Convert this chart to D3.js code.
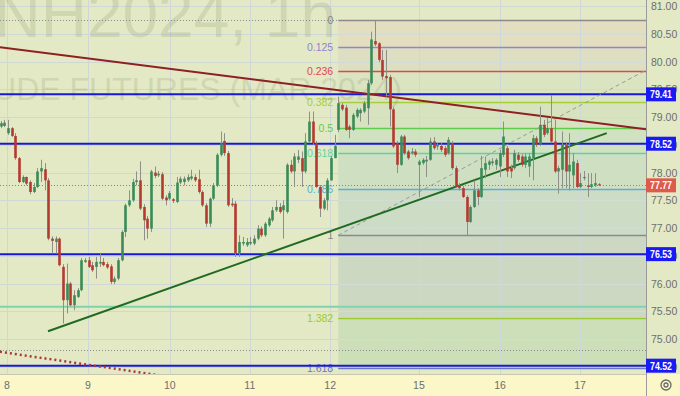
<!DOCTYPE html>
<html>
<head>
<meta charset="utf-8">
<script src="https://cdn.jsdelivr.net/npm/d3@7"></script>
<style>
  html, body { margin: 0; padding: 0; background: #e3e9c4; }
  svg { display: block; font-family: "Liberation Sans", Arial, sans-serif; }
</style>
</head>
<body>
<div id="chart"></div>
<script>
"use strict"

// BRNH2024, 1h candles
const candleOpen = [
  78.83, 78.84, 78.71, 78.80, 78.66, 78.26, 77.83, 77.92, 77.83, 77.65,
  77.74, 78.02, 78.06, 77.86, 76.81, 76.75, 76.81, 76.30, 75.70, 76.00,
  75.61, 75.76, 75.88, 76.39, 76.42, 76.33, 76.30, 76.36, 76.39, 76.35,
  76.31, 76.03, 76.09, 76.42, 76.93, 77.41, 77.50, 77.83, 77.86, 77.38,
  77.17, 76.99, 78.00, 77.95, 77.97, 77.55, 77.53, 77.52, 77.47, 77.82,
  77.83, 77.86, 77.89, 77.92, 77.88, 77.65, 77.41, 77.08, 77.53, 77.77,
  78.32, 78.57, 78.35, 77.44, 77.44, 76.54, 76.72, 76.69, 76.72, 76.72,
  76.81, 76.99, 76.87, 77.05, 77.14, 77.32, 77.38, 77.32, 77.29, 78.14,
  78.02, 78.23, 78.26, 78.02, 78.56, 78.92, 78.53, 77.74, 77.35, 77.50,
  77.86, 78.26, 78.77, 79.22, 79.17, 78.83, 78.77, 79.01, 79.07, 79.10,
  79.16, 79.61, 80.37, 80.33, 80.03, 79.74, 79.72, 79.14, 78.53, 78.14,
  78.65, 78.38, 78.35, 78.38, 78.14, 78.17, 78.20, 78.23, 78.56, 78.47,
  78.48, 78.44, 78.35, 78.53, 78.08, 77.77, 77.72, 77.56, 77.11, 77.38,
  77.68, 77.56, 78.05, 78.14, 78.17, 78.14, 78.11, 78.32, 78.44, 78.08,
  78.08, 78.32, 78.29, 78.14, 78.11, 78.26, 78.62, 78.50, 78.86, 78.71,
  78.80, 78.56, 78.02, 78.05, 78.50, 78.02, 77.95, 78.17, 77.74, 77.90,
  77.77, 77.74, 77.77, 77.79
];
const candleHigh = [
  78.93, 78.95, 78.95, 78.82, 78.71, 78.28, 77.95, 77.93, 77.86, 77.81,
  78.08, 78.23, 78.17, 77.90, 76.85, 76.85, 76.83, 76.35, 76.36, 76.03,
  75.88, 75.92, 76.46, 76.46, 76.48, 76.39, 76.48, 76.54, 76.46, 76.39,
  76.35, 76.13, 76.46, 76.96, 77.44, 77.68, 77.89, 78.02, 78.20, 77.43,
  77.22, 78.05, 78.11, 78.03, 78.01, 77.59, 77.67, 77.54, 77.92, 77.93,
  77.93, 77.97, 78.05, 77.97, 78.05, 77.68, 77.45, 77.55, 77.81, 78.35,
  78.74, 78.71, 78.39, 77.54, 77.49, 76.87, 76.84, 76.82, 76.84, 76.87,
  77.05, 77.03, 77.11, 77.20, 77.38, 77.50, 77.45, 77.50, 78.17, 78.23,
  78.35, 78.41, 78.38, 78.71, 79.10, 79.10, 78.57, 77.77, 77.54, 77.90,
  78.30, 78.68, 79.37, 79.25, 79.22, 78.86, 79.07, 79.16, 79.16, 79.29,
  79.67, 80.54, 80.75, 80.35, 80.21, 80.21, 79.76, 79.18, 78.57, 78.68,
  78.68, 78.41, 78.44, 78.42, 78.23, 78.26, 78.30, 78.63, 78.64, 78.53,
  78.53, 78.48, 78.64, 78.57, 78.12, 77.81, 77.76, 77.59, 77.41, 77.86,
  77.72, 78.30, 78.29, 78.23, 78.26, 78.26, 78.41, 78.92, 78.48, 78.14,
  78.41, 78.37, 78.33, 78.35, 78.35, 78.68, 78.66, 79.19, 78.95, 78.98,
  79.40, 78.95, 78.12, 78.74, 78.55, 78.71, 78.35, 78.23, 77.99, 78.03,
  77.99, 77.99, 77.99, 77.81
];
const candleLow = [
  78.80, 78.82, 78.68, 78.64, 78.23, 77.81, 77.81, 77.77, 77.61, 77.63,
  77.72, 77.83, 77.68, 76.78, 76.54, 76.54, 76.31, 75.28, 75.46, 75.59,
  75.52, 75.74, 75.86, 76.37, 76.28, 76.21, 76.09, 76.30, 76.31, 76.26,
  75.99, 75.99, 76.06, 76.40, 76.84, 77.38, 77.47, 77.77, 77.32, 76.78,
  76.81, 76.93, 77.90, 77.92, 77.50, 77.41, 77.50, 77.45, 77.45, 77.79,
  77.77, 77.83, 77.86, 77.83, 77.62, 77.38, 77.02, 77.02, 77.50, 77.74,
  78.29, 78.30, 77.38, 77.38, 76.48, 76.48, 76.68, 76.66, 76.69, 76.69,
  76.78, 76.84, 76.84, 77.02, 77.11, 77.29, 77.26, 76.81, 77.26, 77.99,
  77.74, 78.17, 77.74, 77.99, 78.53, 78.50, 77.72, 77.20, 77.32, 77.32,
  77.85, 78.26, 78.73, 79.11, 78.75, 78.62, 78.75, 78.98, 78.92, 79.07,
  78.86, 79.58, 80.28, 79.99, 79.67, 79.37, 78.83, 78.44, 77.99, 78.12,
  78.32, 78.23, 78.32, 78.28, 77.56, 78.14, 77.92, 78.21, 78.41, 78.41,
  78.37, 78.28, 78.32, 78.05, 77.72, 77.68, 77.54, 76.87, 77.09, 77.36,
  77.41, 77.54, 77.90, 78.05, 78.12, 78.05, 77.92, 78.28, 77.92, 77.90,
  78.05, 78.19, 78.10, 78.08, 77.92, 77.86, 78.46, 78.48, 78.64, 78.68,
  78.53, 77.99, 77.62, 77.72, 77.72, 77.68, 77.72, 77.72, 77.72, 77.86,
  77.56, 77.72, 77.74, 77.76
];
const candleClose = [
  78.89, 78.90, 78.80, 78.66, 78.26, 77.83, 77.92, 77.80, 77.65, 77.74,
  78.02, 78.08, 77.86, 76.81, 76.77, 76.81, 76.33, 75.70, 76.00, 75.61,
  75.79, 75.88, 76.42, 76.42, 76.30, 76.24, 76.39, 76.39, 76.33, 76.29,
  76.03, 76.09, 76.42, 76.93, 77.41, 77.50, 77.83, 77.86, 77.35, 77.14,
  76.99, 78.02, 77.94, 77.98, 77.53, 77.50, 77.63, 77.49, 77.82, 77.89,
  77.89, 77.92, 77.93, 77.86, 77.65, 77.41, 77.08, 77.53, 77.77, 78.32,
  78.53, 78.35, 77.41, 77.41, 76.54, 76.75, 76.75, 76.75, 76.75, 76.81,
  76.99, 76.87, 77.08, 77.17, 77.32, 77.38, 77.29, 77.41, 78.14, 78.02,
  78.29, 78.29, 78.02, 78.56, 78.92, 78.53, 77.74, 77.35, 77.50, 77.86,
  78.26, 78.48, 79.25, 79.14, 78.77, 78.77, 79.04, 79.13, 79.13, 79.25,
  79.61, 80.40, 80.31, 80.03, 79.73, 79.70, 79.14, 78.47, 78.14, 78.65,
  78.35, 78.26, 78.38, 78.32, 78.20, 78.23, 78.23, 78.56, 78.44, 78.50,
  78.41, 78.32, 78.59, 78.08, 77.74, 77.72, 77.56, 77.11, 77.38, 77.68,
  77.56, 78.08, 78.17, 78.20, 78.20, 78.23, 78.35, 78.65, 78.02, 78.02,
  78.35, 78.23, 78.14, 78.29, 78.29, 78.62, 78.50, 78.86, 78.68, 78.80,
  78.56, 78.02, 78.08, 78.50, 78.02, 78.14, 78.20, 77.74, 77.81, 77.92,
  77.74, 77.79, 77.81, 77.77
];

// time axis: day labels and the bar where each day starts
const dayLabels = ["8", "9", "10", "11", "12", "15", "16", "17"];
const dayBars = [1.7, 23.8, 46.1, 67.9, 89.8, 114.0, 136.1, 157.9];

// price axis
const priceTicks = [81, 80.5, 80, 79.5, 79, 78.5, 78, 77.5, 77, 76.5, 76, 75.5, 75, 74.5];

// drawn levels
const keyLevels = [79.41, 78.52, 76.53, 74.52];
const lastPrice = 77.77;
const dottedLevels = [80.75, 74.80];
const tealLevels = [75.58];

// fibonacci retracement
const fibHigh = 80.75;
const fibLow = 76.87;
const fibStartBar = 92;
const fibRatios = [0, 0.125, 0.236, 0.382, 0.5, 0.618, 0.786, 1, 1.382, 1.618];
const fibLabels = ["0", "0.125", "0.236", "0.382", "0.5", "0.618", "0.786", "1", "1.382", "1.618"];

// trend lines: [bar1, price1, bar2, price2]
const maroonLine = [-0.2, 80.26, 176, 78.78];
const greenLine = [12.9, 75.14, 165.2, 78.71];
const fibTrendLine = [92, 76.87, 176, 79.85];
const dottedRedLine = [-0.2, 74.77, 44, 74.34];

const fibColors = ["#8a8a8a", "#9383d0", "#e0474a", "#a6cf3a", "#5fcd4c", "#5fd3a4", "#5aaedb", "#8a8a8a", "#9ccc2c", "#6b78c4"];
const fibFills = ["#e3dcbf", "#dcdcc2", "#d9e3bf", "#d3e2bd", "#cee0bf", "#cbddc2", "#c9d9c5", "#c9d5c3", "#c9ddb6"];

let ChartView = function(targetID) {

  let self = {
    svg: null,
    pane: null,
    xScale: null,
    yScale: null,
    width: 680,
    height: 396,
    paneW: 646,
    paneH: 374
  };

  init();

  function init() {
    self.svg = d3.select(targetID).append("svg")
      .attr("width", self.width)
      .attr("height", self.height);

    self.xScale = d3.scaleLinear()
      .domain([0, candleClose.length - 1])
      .range([0.7, 598.7]);

    self.yScale = d3.scaleLinear()
      .domain([74.37, 81.11])
      .range([self.paneH, 0]);

    self.svg.append("defs").append("clipPath")
      .attr("id", "paneClip")
      .append("rect")
      .attr("width", self.paneW)
      .attr("height", self.paneH);

    // backgrounds
    self.svg.append("rect")
      .attr("width", self.width)
      .attr("height", self.height)
      .style("fill", "#e3e9c4");
    self.svg.append("rect")
      .attr("y", self.paneH)
      .attr("width", self.width)
      .attr("height", self.height - self.paneH)
      .style("fill", "#fbf7c9");

    self.pane = self.svg.append("g").attr("clip-path", "url(#paneClip)");

    drawGrid();
    drawFib();
    drawWatermark();
    drawLevels();
    drawTrendLines();
    drawCandles();
    drawAxes();
  }


  function fibPrice(r) {
    return fibHigh - r * (fibHigh - fibLow);
  }


  function drawGrid() {
    let grid = self.pane.append("g");

    grid.selectAll(".hgrid").data(priceTicks).enter()
      .append("line")
      .attr("x1", 0).attr("x2", self.paneW)
      .attr("y1", d => Math.round(self.yScale(d)) + 0.5)
      .attr("y2", d => Math.round(self.yScale(d)) + 0.5)
      .style("stroke", "#cfd8d4")
      .style("stroke-width", 1);

    grid.selectAll(".vgrid").data(dayBars).enter()
      .append("line")
      .attr("x1", d => Math.round(self.xScale(d)) + 0.5)
      .attr("x2", d => Math.round(self.xScale(d)) + 0.5)
      .attr("y1", 0).attr("y2", self.paneH)
      .style("stroke", "#cfd8d4")
      .style("stroke-width", 1);
  }


  function drawFib() {
    let g = self.pane.append("g");
    let x0 = self.xScale(fibStartBar);
    let bands = d3.range(fibRatios.length - 1);

    g.selectAll(".band").data(bands).enter()
      .append("rect")
      .attr("x", x0)
      .attr("width", self.paneW - x0)
      .attr("y", i => self.yScale(fibPrice(fibRatios[i])))
      .attr("height", i => self.yScale(fibPrice(fibRatios[i + 1])) - self.yScale(fibPrice(fibRatios[i])))
      .style("fill", i => fibFills[i])
      .style("opacity", 0.85);

    // grid lines stay faintly visible through the fill
    g.selectAll(".hgrid2").data(priceTicks.filter(p => p < fibHigh && p > fibPrice(1.618))).enter()
      .append("line")
      .attr("x1", x0).attr("x2", self.paneW)
      .attr("y1", d => Math.round(self.yScale(d)) + 0.5)
      .attr("y2", d => Math.round(self.yScale(d)) + 0.5)
      .style("stroke", "#d2dcd6")
      .style("stroke-width", 1);
    g.selectAll(".vgrid2").data(dayBars.filter(b => b > fibStartBar)).enter()
      .append("line")
      .attr("x1", d => Math.round(self.xScale(d)) + 0.5)
      .attr("x2", d => Math.round(self.xScale(d)) + 0.5)
      .attr("y1", self.yScale(fibHigh)).attr("y2", self.paneH)
      .style("stroke", "#cdd8d8")
      .style("stroke-width", 1);

    g.selectAll(".level").data(fibRatios).enter()
      .append("line")
      .attr("x1", x0).attr("x2", self.paneW)
      .attr("y1", r => Math.round(self.yScale(fibPrice(r))) + 0.5)
      .attr("y2", r => Math.round(self.yScale(fibPrice(r))) + 0.5)
      .style("stroke", (r, i) => fibColors[i])
      .style("stroke-width", 1.5);

    g.selectAll(".flabel").data(fibRatios).enter()
      .append("text")
      .attr("x", x0 - 5)
      .attr("y", r => self.yScale(fibPrice(r)) + 4)
      .attr("text-anchor", "end")
      .style("font-size", "10.5px")
      .style("fill", (r, i) => fibColors[i])
      .text((r, i) => fibLabels[i]);
  }


  function drawWatermark() {
    let g = self.pane.append("g")
      .style("fill", "#5f6e45")
      .style("opacity", 0.14);

    g.append("text")
      .attr("x", 336)
      .attr("y", 37)
      .attr("text-anchor", "end")
      .style("font-size", "64px")
      .text("BRNH2024, 1h");

    g.append("text")
      .attr("x", 402)
      .attr("y", 100)
      .attr("text-anchor", "end")
      .style("font-size", "32px")
      .text("BRENT CRUDE FUTURES (MAR 2024)");
  }


  function drawLevels() {
    let g = self.pane.append("g");

    g.selectAll(".dotted").data(dottedLevels).enter()
      .append("line")
      .attr("x1", 0).attr("x2", self.paneW)
      .attr("y1", d => Math.round(self.yScale(d)) + 0.5)
      .attr("y2", d => Math.round(self.yScale(d)) + 0.5)
      .style("stroke", "#8c8c8c")
      .style("stroke-width", 1)
      .style("stroke-dasharray", "1,2");

    g.selectAll(".teal").data(tealLevels).enter()
      .append("line")
      .attr("x1", 0).attr("x2", self.paneW)
      .attr("y1", d => self.yScale(d))
      .attr("y2", d => self.yScale(d))
      .style("stroke", "#7fd3ad")
      .style("stroke-width", 2);

    g.selectAll(".key").data(keyLevels).enter()
      .append("line")
      .attr("x1", 0).attr("x2", self.paneW)
      .attr("y1", d => self.yScale(d))
      .attr("y2", d => self.yScale(d))
      .style("stroke", "#1818d8")
      .style("stroke-width", 2);

    g.append("line")
      .attr("x1", 0).attr("x2", self.paneW)
      .attr("y1", Math.round(self.yScale(lastPrice)) + 0.5)
      .attr("y2", Math.round(self.yScale(lastPrice)) + 0.5)
      .style("stroke", "#e0604a")
      .style("stroke-width", 1)
      .style("stroke-dasharray", "1,2");
  }


  function drawTrendLines() {
    let g = self.pane.append("g");

    let seg = (d, color, w, dash) => g.append("line")
      .attr("x1", self.xScale(d[0])).attr("y1", self.yScale(d[1]))
      .attr("x2", self.xScale(d[2])).attr("y2", self.yScale(d[3]))
      .style("stroke", color)
      .style("stroke-width", w)
      .style("stroke-dasharray", dash);

    seg(fibTrendLine, "#9a9a9a", 1, "4,3");
    seg(maroonLine, "#8e1f22", 2, null);
    seg(greenLine, "#1f6b22", 2, null);
    seg(dottedRedLine, "#a8363a", 2.5, "2,3");
  }


  function drawCandles() {
    let idx = d3.range(candleClose.length);
    let g = self.pane.append("g");
    let bodyW = 2.6;

    g.selectAll(".wick").data(idx).enter()
      .append("line")
      .attr("x1", i => Math.round(self.xScale(i)) + 0.5)
      .attr("x2", i => Math.round(self.xScale(i)) + 0.5)
      .attr("y1", i => self.yScale(candleHigh[i]))
      .attr("y2", i => self.yScale(candleLow[i]))
      .style("stroke", "#8d8f88")
      .style("stroke-width", 1);

    g.selectAll(".body").data(idx).enter()
      .append("rect")
      .attr("x", i => Math.round(self.xScale(i)) + 0.5 - bodyW / 2)
      .attr("width", bodyW)
      .attr("y", i => self.yScale(Math.max(candleOpen[i], candleClose[i])))
      .attr("height", i => Math.max(1, Math.abs(self.yScale(candleOpen[i]) - self.yScale(candleClose[i]))))
      .style("fill", i => candleClose[i] >= candleOpen[i] ? "#3b8a58" : "#b4392f");
  }


  function drawAxes() {
    let svg = self.svg;

    // price labels
    svg.selectAll(".ptick").data(priceTicks).enter()
      .append("text")
      .attr("x", 651)
      .attr("y", d => self.yScale(d) + 4)
      .style("font-size", "10.5px")
      .style("fill", "#6e6e6e")
      .text(d => d.toFixed(2));

    // day labels
    svg.selectAll(".dtick").data(dayBars).enter()
      .append("text")
      .attr("x", d => self.xScale(d))
      .attr("y", 389)
      .attr("text-anchor", "middle")
      .style("font-size", "10.5px")
      .style("fill", "#6e6e6e")
      .text((d, i) => dayLabels[i]);

    // separators
    svg.append("line")
      .attr("x1", self.paneW + 0.5).attr("x2", self.paneW + 0.5)
      .attr("y1", 0).attr("y2", self.height)
      .style("stroke", "#9a9a9a");
    svg.append("line")
      .attr("x1", 0).attr("x2", self.paneW)
      .attr("y1", self.paneH + 0.5).attr("y2", self.paneH + 0.5)
      .style("stroke", "#c8c8b0");

    // key level badges
    let badge = svg.selectAll(".badge").data(keyLevels).enter().append("g");
    badge.append("rect")
      .attr("x", self.paneW)
      .attr("y", d => self.yScale(d) - 7)
      .attr("width", 30)
      .attr("height", 14)
      .style("fill", "#1a1af5");
    badge.append("text")
      .attr("x", 650)
      .attr("y", d => self.yScale(d) + 4)
      .attr("textLength", 22)
      .attr("lengthAdjust", "spacingAndGlyphs")
      .style("font-size", "10.5px")
      .style("font-weight", "bold")
      .style("fill", "#ffffff")
      .text(d => d.toFixed(2));

    // last price badge
    svg.append("rect")
      .attr("x", self.paneW)
      .attr("y", self.yScale(lastPrice) - 7)
      .attr("width", 30)
      .attr("height", 14)
      .style("fill", "#de5a4a");
    svg.append("text")
      .attr("x", 650)
      .attr("y", self.yScale(lastPrice) + 4)
      .attr("textLength", 22)
      .attr("lengthAdjust", "spacingAndGlyphs")
      .style("font-size", "10.5px")
      .style("font-weight", "bold")
      .style("fill", "#ffffff")
      .text(lastPrice.toFixed(2));

    // settings icon
    svg.append("circle")
      .attr("cx", 666).attr("cy", 385).attr("r", 5)
      .style("fill", "none").style("stroke", "#6a6a6a").style("stroke-width", 1.3);
    svg.append("circle")
      .attr("cx", 666).attr("cy", 385).attr("r", 2)
      .style("fill", "none").style("stroke", "#6a6a6a").style("stroke-width", 1.3);
  }

  return self;
}

ChartView("#chart");
</script>
</body>
</html>
